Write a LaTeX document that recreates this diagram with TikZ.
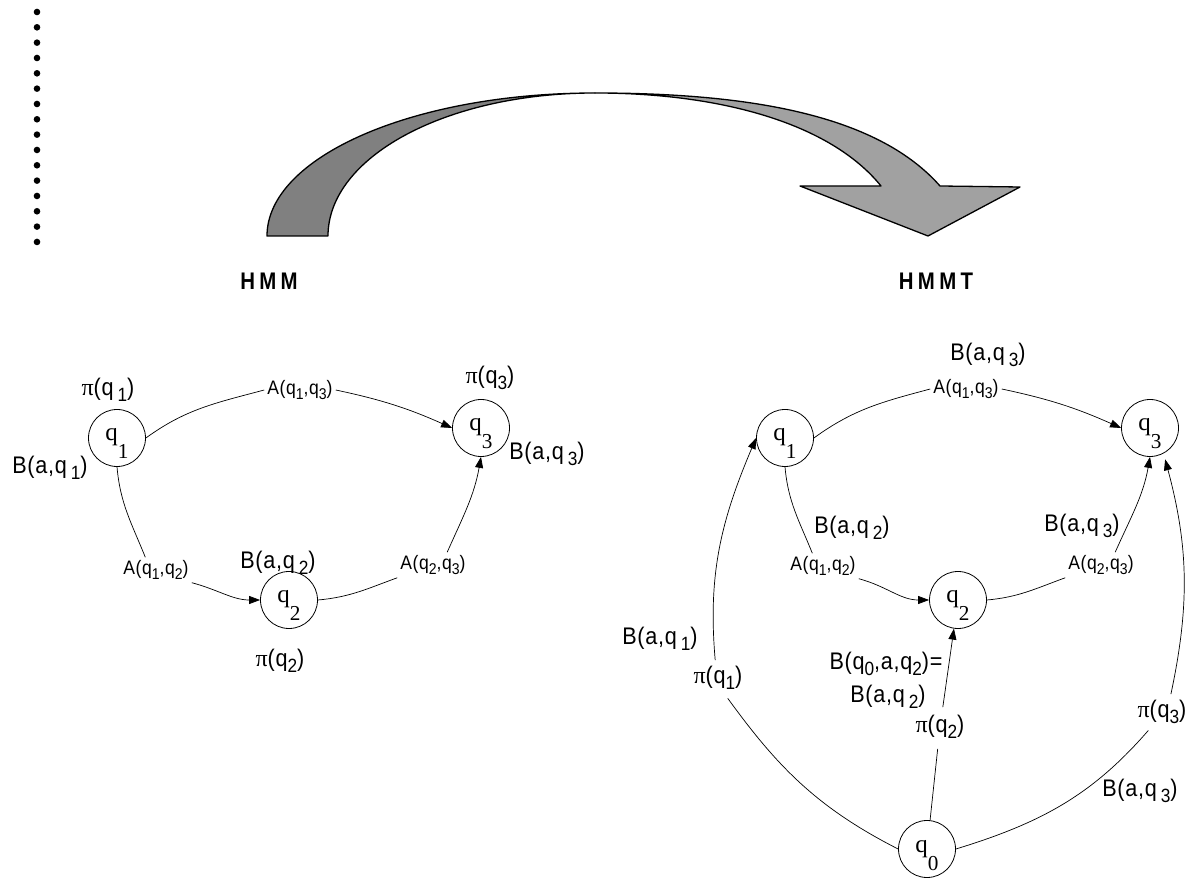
\documentclass[tikz,border=0pt]{standalone}
\usepackage{fontspec}
\setmainfont{Liberation Sans}
\newfontfamily\labfont[FakeStretch=0.9,LetterSpace=3]{Liberation Sans}
\newfontfamily\serfont{Liberation Serif}
\newfontfamily\hdrfont[FakeStretch=0.85,LetterSpace=18]{Liberation Sans}
\usetikzlibrary{arrows.meta}
% lowered index inside edge labels
\newcommand\dn[1]{\raisebox{-0.25em}{\scalebox{0.8}{#1}}}
% state name with its deep index
\newcommand\stname[1]{q\raisebox{-0.72em}{\scalebox{0.85}{#1}}}
\newcommand\pis{{\serfont π}}
\definecolor{darkband}{gray}{0.50}
\definecolor{lightband}{gray}{0.63}
\begin{document}
\begin{tikzpicture}[x=1pt,y=1pt,
  state/.style={circle, draw, line width=0.8pt, minimum size=57pt, inner sep=0pt,
    font=\serfont\fontsize{25}{25}\selectfont, text height=10pt, text depth=4pt},
  lbl/.style={font=\labfont\fontsize{24}{28}\selectfont, inner sep=2pt},
  albl/.style={font=\labfont\fontsize{19.5}{22}\selectfont, inner sep=3pt},
  hdr/.style={font=\hdrfont\bfseries\fontsize{24}{24}\selectfont, inner sep=0pt},
  edge/.style={line width=0.7pt},
  arr/.style={edge, -{Triangle[length=11pt,width=8pt]}},
  band/.style={draw, line width=1.3pt, line join=round}]
\useasboundingbox (0,0) rectangle (1191,878);

% dotted divider
\foreach \i in {0,...,15} \fill (37,{866-15.33*\i}) circle (3.3);

% twisted transformation arrow
\path[band, fill=darkband] (267,642) .. controls (267,721) and (413,785) .. (595,785)
   .. controls (446,785) and (328,721) .. (328,642) -- cycle;
\path[band, fill=lightband] (595,785) .. controls (760,785) and (880,760) .. (940,692)
   -- (1020,691) -- (928,642) -- (800,692) -- (881,692)
   .. controls (830,755) and (720,785) .. (595,785) -- cycle;

\node[hdr] (hmm) at (269,597) {HMM};
\node[hdr] (hmmt) at (936,597) {HMMT};

% ---------------- HMM ----------------
\node[state] (q1L) at (117,440) {\stname{1}};
\node[state] (q2L) at (289,278) {\stname{2}};
\node[state] (q3L) at (481,450) {\stname{3}};

\node[lbl] (pi1L) at (108,488) {\pis(q\,\dn{1})};
\node[lbl] (b1L) at (50,410) {B(a,q\,\dn{1})};
\node[lbl] (pi3L) at (490,500) {\pis(q\dn{3})};
\node[lbl] (b3L) at (547,424) {B(a,q\,\dn{3})};
\node[lbl] (b2L) at (278,315) {B(a,q\,\dn{2})};
\node[lbl] (pi2L) at (280,217) {\pis(q\dn{2})};

\node[albl] (a13L) at (300,488) {A(q\dn{1},q\dn{3})};
\node[albl] (a12L) at (156,308) {A(q\dn{1},q\dn{2})};
\node[albl] (a23L) at (433,313) {A(q\dn{2},q\dn{3})};

\draw[edge] (q1L.east) to[out=36,in=195] (a13L.west);
\draw[arr] (a13L.east) to[out=-12,in=156] (q3L.west);
\draw[edge] (q1L.south) to[out=-85,in=112] (a12L.130);
\draw[arr] (a12L.south east) to[out=-15,in=180] (q2L.west);
\draw[edge] (q2L.east) to[out=5,in=200] (a23L.south west);
\draw[arr] (a23L.42) to[out=66,in=-100] (q3L.south);

% ---------------- HMMT ----------------
\node[state] (q1R) at (785,440) {\stname{1}};
\node[state] (q2R) at (958,278) {\stname{2}};
\node[state] (q3R) at (1150,450) {\stname{3}};
\node[state] (q0R) at (927,29) {\stname{0}};

\node[lbl] (b3T) at (988,523) {B(a,q\,\dn{3})};
\node[lbl] (b2R) at (852,350) {B(a,q\,\dn{2})};
\node[lbl] (b3R) at (1082,352) {B(a,q\,\dn{3})};
\node[lbl] (b1R) at (660,239) {B(a,q\,\dn{1})};
\node[lbl, inner sep=0pt] (bq0a) at (886,214) {B(q\dn{0},a,q\dn{2})=};
\node[lbl, inner sep=0pt] (bq0b) at (888,181) {B(a,q\,\dn{2})};
\node[lbl] (pi1R) at (718,200) {\pis(q\dn{1})};
\node[lbl] (pi2R) at (940,151) {\pis(q\dn{2})};
\node[lbl] (pi3R) at (1162,166) {\pis(q\dn{3})};
\node[lbl] (b3B) at (1140,87) {B(a,q\,\dn{3})};

\node[albl] (a13R) at (966,489) {A(q\dn{1},q\dn{3})};
\node[albl] (a12R) at (823,312) {A(q\dn{1},q\dn{2})};
\node[albl] (a23R) at (1101,313) {A(q\dn{2},q\dn{3})};

\draw[edge] (q1R.east) to[out=36,in=195] (a13R.west);
\draw[arr] (a13R.east) to[out=-12,in=156] (q3R.west);
\draw[edge] (q1R.south) to[out=-85,in=112] (a12R.130);
\draw[arr] (a12R.south east) to[out=-15,in=180] (q2R.west);
\draw[edge] (q2R.east) to[out=5,in=200] (a23R.south west);
\draw[arr] (a23R.42) to[out=66,in=-100] (q3R.south);

\draw[edge, shorten >=8pt] (q0R.west) to[out=153,in=-54] (pi1R.-70);
\draw[arr, shorten <=4pt] (pi1R.100) to[out=95,in=-113] (q1R.west);
\draw[edge, shorten >=8pt] (q0R) -- (pi2R);
\draw[arr, shorten <=6pt] (pi2R) -- (q2R);
\draw[edge, shorten >=6pt] (q0R.east) to[out=17,in=-131] (pi3R.-125);
\draw[arr, shorten <=4pt, shorten >=6pt] (pi3R.60) to[out=78,in=-75] (q3R.-62);
\end{tikzpicture}
\end{document}
